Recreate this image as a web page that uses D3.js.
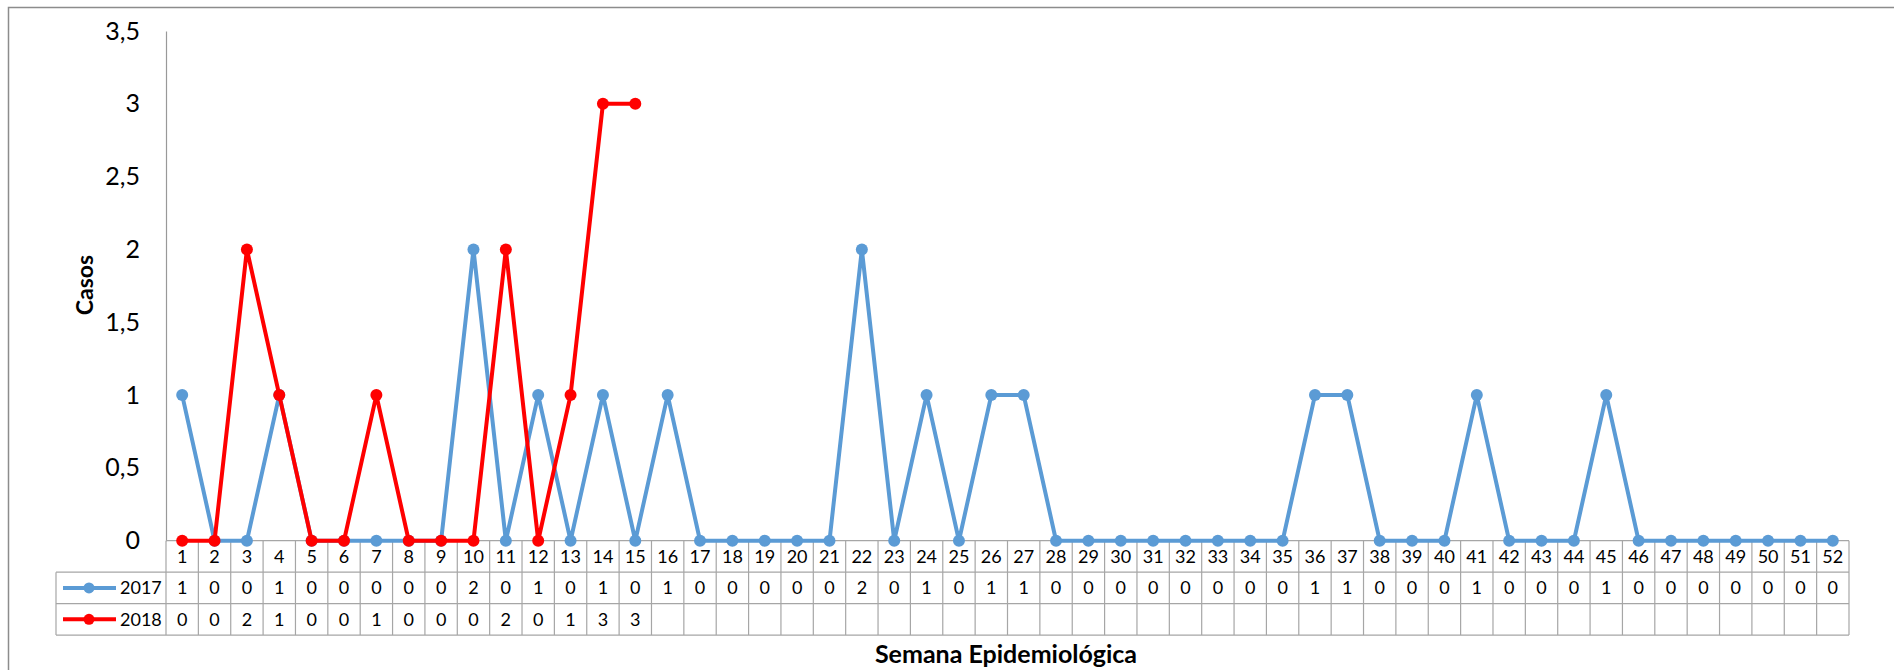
<!DOCTYPE html>
<html>
<head>
<meta charset="utf-8">
<script src="https://cdn.jsdelivr.net/npm/d3@7"></script>
<style>
  html, body { margin: 0; padding: 0; background: #fff; }
  svg { display: block; font-family: Lato, "Open Sans", "Liberation Sans", sans-serif; }
</style>
</head>
<body>
<svg id="chart" width="1894" height="670"></svg>
<script>
// Semanas epidemiológicas 1..52
const weeks = d3.range(1, 53);
const casos2017 = [1,0,0,1,0,0,0,0,0,2,0,1,0,1,0,1,0,0,0,0,0,2,0,1,0,1,1,0,0,0,0,0,0,0,0,1,1,0,0,0,1,0,0,0,1,0,0,0,0,0,0,0];
const casos2018 = [0,0,2,1,0,0,1,0,0,0,2,0,1,3,3];
const yTicks = [0, 0.5, 1, 1.5, 2, 2.5, 3, 3.5];
const seriesNames = ["2017", "2018"];
const seriesColors = ["#5B9BD5", "#FF0000"];

const svg = d3.select("#chart");
const W = 1894, H = 670;

const plotLeft = 166, plotRight = 1849, plotTop = 31, plotBottom = 540.7;
const rowH = 31.45;
const legendLeft = 56;
const gridColor = "#A6A6A6";

// outer chart frame
svg.append("rect")
  .attr("x", 8.5).attr("y", 7.5)
  .attr("width", W).attr("height", H)
  .attr("fill", "none").attr("stroke", "#8C8C8C").attr("stroke-width", 1.5);

const x = d3.scaleBand().domain(weeks).range([plotLeft, plotRight]).padding(0);
const y = d3.scaleLinear().domain([0, 3.5]).range([plotBottom, plotTop]);
const cx = w => x(w) + x.bandwidth() / 2;

// y axis
const yAxis = d3.axisLeft(y)
  .tickValues(yTicks)
  .tickSize(0)
  .tickPadding(26)
  .tickFormat(d => String(d).replace(".", ","));
const gy = svg.append("g").attr("transform", `translate(${plotLeft},0)`).call(yAxis);
gy.select(".domain").attr("stroke", "#999").attr("stroke-width", 1.2);
gy.selectAll("text").attr("font-size", 25).attr("fill", "#000")
  .attr("font-family", "Lato, 'Open Sans', sans-serif");

// y axis title
svg.append("text")
  .attr("transform", `translate(93,285) rotate(-90)`)
  .attr("text-anchor", "middle")
  .attr("font-size", 23).attr("font-weight", "bold")
  .text("Casos");

// data table beneath the plot
const table = svg.append("g").attr("stroke", gridColor).attr("stroke-width", 1.2);
const rowsY = [plotBottom, plotBottom + rowH, plotBottom + 2 * rowH, plotBottom + 3 * rowH];
// horizontal lines
table.append("line").attr("x1", plotLeft).attr("x2", plotRight).attr("y1", rowsY[0]).attr("y2", rowsY[0]);
[1, 2, 3].forEach(i => {
  table.append("line").attr("x1", legendLeft).attr("x2", plotRight).attr("y1", rowsY[i]).attr("y2", rowsY[i]);
});
// vertical lines
weeks.concat([53]).forEach(w => {
  const xx = w <= 52 ? x(w) : plotRight;
  table.append("line").attr("x1", xx).attr("x2", xx).attr("y1", rowsY[0]).attr("y2", rowsY[3]);
});
table.append("line").attr("x1", legendLeft).attr("x2", legendLeft).attr("y1", rowsY[1]).attr("y2", rowsY[3]);

// week labels
svg.append("g").selectAll("text").data(weeks).join("text")
  .attr("x", d => cx(d)).attr("y", rowsY[0] + rowH / 2).attr("dy", "0.36em")
  .attr("text-anchor", "middle").attr("font-size", 18)
  .text(d => d);

// value rows and legend keys
[casos2017, casos2018].forEach((vals, si) => {
  const yRow = rowsY[si + 1] + rowH / 2;
  svg.append("g").selectAll("text").data(vals).join("text")
    .attr("x", (d, i) => cx(weeks[i])).attr("y", yRow).attr("dy", "0.36em")
    .attr("text-anchor", "middle").attr("font-size", 18)
    .text(d => d);
  svg.append("line").attr("x1", 63).attr("x2", 116).attr("y1", yRow).attr("y2", yRow)
    .attr("stroke", seriesColors[si]).attr("stroke-width", 4);
  svg.append("circle").attr("cx", 89).attr("cy", yRow).attr("r", 5.5).attr("fill", seriesColors[si]);
  svg.append("text").attr("x", 120).attr("y", yRow).attr("dy", "0.36em")
    .attr("font-size", 18).text(seriesNames[si]);
});

// x axis title
svg.append("text")
  .attr("x", 1006).attr("y", 663)
  .attr("text-anchor", "middle")
  .attr("font-size", 25).attr("font-weight", "bold")
  .text("Semana Epidemiológica");

// series lines with markers (2018 on top)
const line = d3.line().x(d => cx(d.w)).y(d => y(d.v));
[casos2017, casos2018].forEach((vals, si) => {
  const pts = vals.map((v, i) => ({ w: weeks[i], v }));
  const g = svg.append("g");
  g.append("path").datum(pts).attr("d", line)
    .attr("fill", "none").attr("stroke", seriesColors[si])
    .attr("stroke-width", 4).attr("stroke-linejoin", "round");
  g.selectAll("circle").data(pts).join("circle")
    .attr("cx", d => cx(d.w)).attr("cy", d => y(d.v)).attr("r", 6)
    .attr("fill", seriesColors[si]);
});
</script>
</body>
</html>
